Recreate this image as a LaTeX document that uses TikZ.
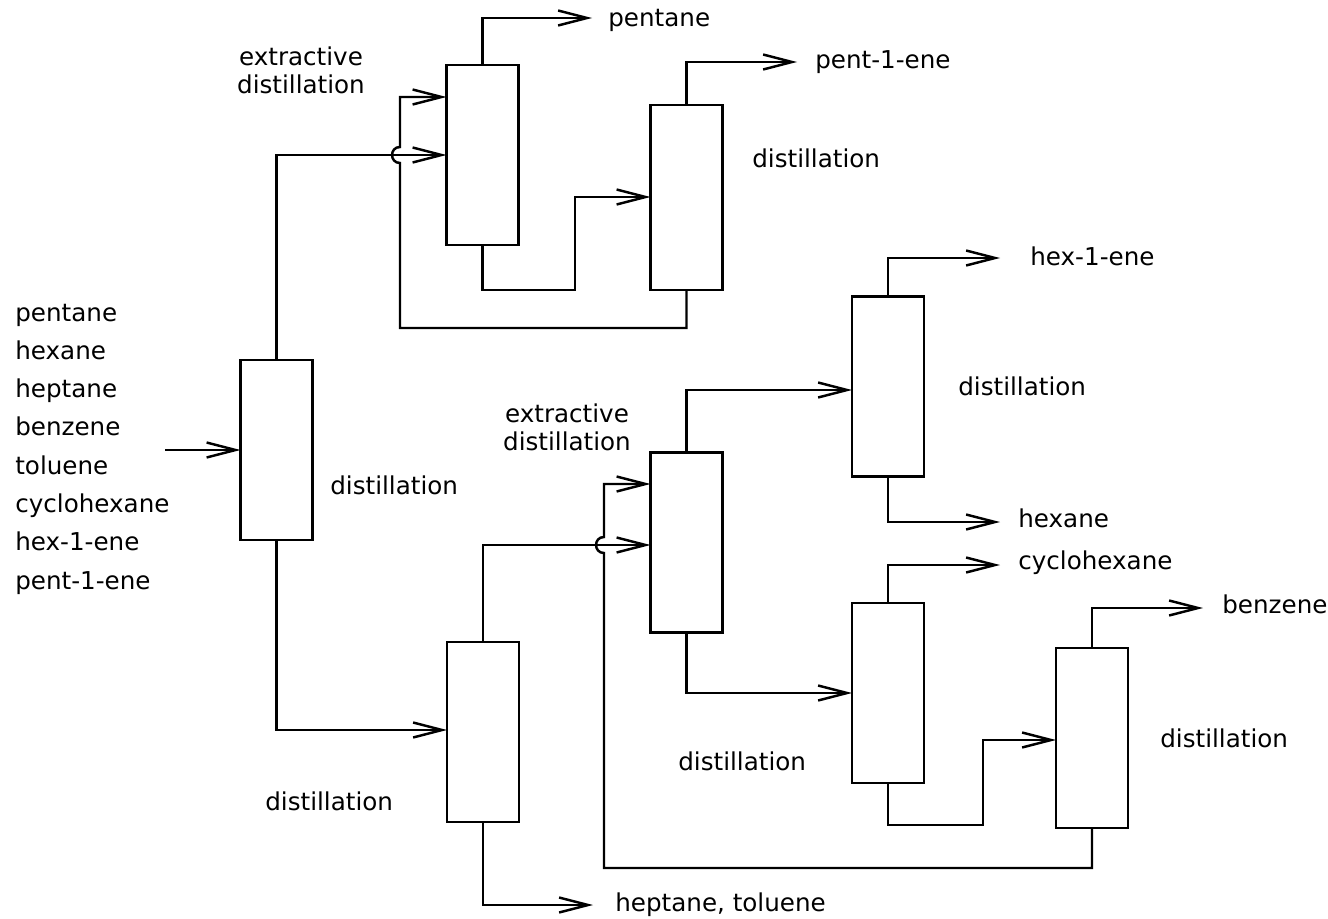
\documentclass[tikz,border=0pt]{standalone}
\usepackage{fontspec}
\setmainfont{DejaVu Sans}
\usetikzlibrary{arrows.meta}
\begin{document}
\begin{tikzpicture}[x=0.02cm,y=-0.02cm,
  column/.style={draw, line width=1.4pt, minimum width=1.44cm, minimum height=3.6cm, inner sep=0pt, outer sep=0pt},
  flow/.style={line width=1.4pt, -{Straight Barb[length=0.58cm,width=0.3cm,line width=1.4pt]}},
  lbl/.style={font=\fontsize{14}{16}\selectfont, anchor=base west, inner sep=0pt},
  twoline/.style={font=\fontsize{14}{15.9}\selectfont, align=center, inner sep=0pt, anchor=base},
  hop/.style={out=180, in=180, looseness=1.7},
]
\useasboundingbox (0,0) rectangle (1328,919);

% columns
\node[column] (c1) at (276.5,450) {};
\node[column] (c2) at (482.5,155) {};
\node[column, minimum height=3.7cm] (c3) at (686.5,197.5) {};
\node[column] (c4) at (483,732) {};
\node[column] (c5) at (686.5,542.5) {};
\node[column] (c6) at (888,386.5) {};
\node[column] (c7) at (888,693) {};
\node[column] (c8) at (1092,738) {};

% inlets on the column walls
\coordinate (c2a) at (c2.west |- 0,97);
\coordinate (c2b) at (c2.west |- 0,155);
\coordinate (c3a) at (c3.west |- 0,197);
\coordinate (c4a) at (c4.west |- 0,730);
\coordinate (c5a) at (c5.west |- 0,484);
\coordinate (c5b) at (c5.west |- 0,545);
\coordinate (c6a) at (c6.west |- 0,390);
\coordinate (c7a) at (c7.west |- 0,693);
\coordinate (c8a) at (c8.west |- 0,740);

% feed and product ends
\coordinate (feed) at (165,450);
\coordinate (o1) at (592,18);
\coordinate (o2) at (797,62);
\coordinate (o3) at (1000,258);
\coordinate (o4) at (1000,522);
\coordinate (o5) at (1000,565);
\coordinate (o6) at (1203,608);
\coordinate (o7) at (593,905);

% labels
\node[lbl] (feedlist) at (15,321) {\parbox[t]{5cm}{\baselineskip=0.766cm pentane\\hexane\\heptane\\benzene\\toluene\\cyclohexane\\hex-1-ene\\pent-1-ene}};
\node[lbl] (l1) at (608,27) {pentane};
\node[lbl] (l2) at (815,69) {pent-1-ene};
\node[lbl] (l3) at (1030,265) {hex-1-ene};
\node[lbl] (l4) at (1018,527) {hexane};
\node[lbl] (l5) at (1018,569) {cyclohexane};
\node[lbl] (l6) at (1222,613) {benzene};
\node[lbl] (l7) at (615,911) {heptane, toluene};
\node[lbl] (d1) at (330,494) {distillation};
\node[lbl] (d3) at (752,167) {distillation};
\node[lbl] (d6) at (958,395) {distillation};
\node[lbl] (d7) at (678,770) {distillation};
\node[lbl] (d4) at (265,810) {distillation};
\node[lbl] (d8) at (1160,747) {distillation};
\node[twoline] (e1) at (301,93) {extractive\\distillation};
\node[twoline] (e2) at (567,450) {extractive\\distillation};

% connections
\draw[flow] (feed) -- (c1.west);
\draw[flow] (c1.north) |- (c2b);
\draw[flow] (c1.south) |- (c4a);
\draw[flow] (c2.north) |- (o1);
\draw[flow] (c2.south) |- (575,290) |- (c3a);
\draw[flow] (c3.north) |- (o2);
\draw[flow] (c3.south) |- (400,328) -- (400,163) to[hop] (400,147) |- (c2a);
\draw[flow] (c4.north) |- (c5b);
\draw[flow] (c4.south) |- (o7);
\draw[flow] (c5.north) |- (c6a);
\draw[flow] (c5.south) |- (c7a);
\draw[flow] (c6.north) |- (o3);
\draw[flow] (c6.south) |- (o4);
\draw[flow] (c7.north) |- (o5);
\draw[flow] (c7.south) |- (983,825) |- (c8a);
\draw[flow] (c8.north) |- (o6);
\draw[flow] (c8.south) |- (604,868) -- (604,553) to[hop] (604,537) |- (c5a);
\end{tikzpicture}
\end{document}
